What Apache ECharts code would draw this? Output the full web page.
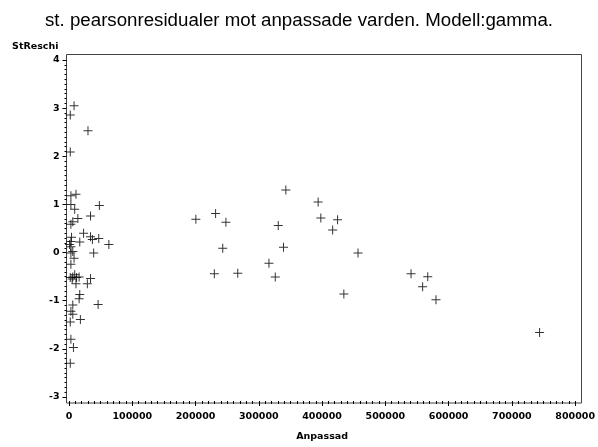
<!DOCTYPE html>
<html>
<head>
<meta charset="utf-8">
<script src="https://cdn.jsdelivr.net/npm/echarts@6/dist/echarts.min.js"></script>
<style>
  html, body { margin: 0; padding: 0; background: #fff; }
  #chart { width: 598px; height: 447px; }
</style>
</head>
<body>
<div id="chart"></div>
<script>
// Fitted values (thousands) and standardized Pearson residuals, gamma model
const fittedLow = [8, 2, 30, 2, 3, 11, 3, 9, 48, 14, 34, 6, 3, 23, 34, 37, 47, 4, 3, 17,
  1, 3, 63, 6, 3, 39, 8, 3, 2, 6, 9, 12, 5, 16, 34, 11, 29, 17, 16, 6,
  46, 3, 6, 18, 2, 3, 7, 2];
const residLow = [3.05, 2.86, 2.53, 2.09, 1.18, 1.21, 1.00, 0.90, 0.98, 0.71, 0.76, 0.64, 0.59, 0.40, 0.33, 0.27, 0.29, 0.32, 0.23, 0.22,
  0.17, 0.12, 0.17, 0.02, -0.01, -0.01, -0.12, -0.24, -0.52, -0.51, -0.46, -0.52, -0.55, -0.51, -0.54, -0.65, -0.65, -0.87, -0.96, -1.09,
  -1.08, -1.22, -1.28, -1.39, -1.44, -1.80, -1.97, -2.30];
const fittedHigh = [200.5, 231.7, 248, 243, 229.7, 266.7, 342.7, 330.7, 339, 316, 326,
  393.75, 398, 424.5, 416.7, 456.8, 434.4, 540.6, 567, 558.9, 580, 743.75];
const residHigh = [0.69, 0.81, 0.63, 0.09, -0.44, -0.43, 1.30, 0.56, 0.11, -0.22, -0.51,
  1.05, 0.72, 0.68, 0.47, -0.01, -0.86, -0.44, -0.50, -0.71, -0.98, -1.66];

const xTicks = { min: 0, max: 800000, step: 100000 };
const yTicks = { min: -3, max: 4, step: 1 };

const fitted = fittedLow.concat(fittedHigh).map(v => v * 1000);
const resid = residLow.concat(residHigh);
const points = fitted.map((x, i) => [x, resid[i]]);

const plus = 'path://M4,0h1v4h4v1h-4v4h-1v-4h-4v-1h4z';
const tickFont = { fontFamily: 'DejaVu Sans', fontWeight: 'bold', fontSize: 9.5, color: '#000' };

const chart = echarts.init(document.getElementById('chart'), null, { renderer: 'canvas' });
chart.setOption({
  animation: false,
  title: {
    text: 'st. pearsonresidualer mot anpassade varden. Modell:gamma.',
    left: 'center',
    top: 6,
    textStyle: { fontFamily: 'Liberation Sans', fontWeight: 'normal', fontSize: 18.7, color: '#000' }
  },
  grid: { left: 69, right: 17, top: 60, bottom: 48 },
  xAxis: {
    type: 'value',
    min: xTicks.min, max: xTicks.max, interval: xTicks.step,
    offset: 4,
    axisLine: { show: false, onZero: false },
    axisTick: { show: true, length: 5, lineStyle: { color: '#000' } },
    minorTick: { show: true, splitNumber: 10, length: 3, lineStyle: { color: '#000' } },
    splitLine: { show: false },
    axisLabel: Object.assign({ margin: 11, formatter: v => String(v) }, tickFont),
    name: 'Anpassad',
    nameLocation: 'middle',
    nameGap: 31,
    nameTextStyle: tickFont
  },
  yAxis: {
    type: 'value',
    min: yTicks.min, max: yTicks.max, interval: yTicks.step,
    offset: 2.5,
    axisLine: { show: false, onZero: false },
    axisTick: { show: true, length: 4, lineStyle: { color: '#000' } },
    minorTick: { show: true, splitNumber: 10, length: 2, lineStyle: { color: '#000' } },
    splitLine: { show: false },
    axisLabel: Object.assign({ margin: 7, formatter: v => String(v) }, tickFont),
    name: 'StReschi',
    nameLocation: 'end',
    nameGap: 13,
    nameTextStyle: Object.assign({ align: 'right', verticalAlign: 'middle', padding: [0, 8, 0, 0] }, tickFont)
  },
  graphic: [{
    type: 'rect',
    silent: true,
    shape: { x: 66.5, y: 54.5, width: 515, height: 348.5 },
    style: { fill: 'none', stroke: '#444', lineWidth: 1 }
  }],
  series: [{
    type: 'scatter',
    data: points,
    symbol: plus,
    symbolSize: 9,
    itemStyle: { color: '#000' }
  }]
});
</script>
</body>
</html>
